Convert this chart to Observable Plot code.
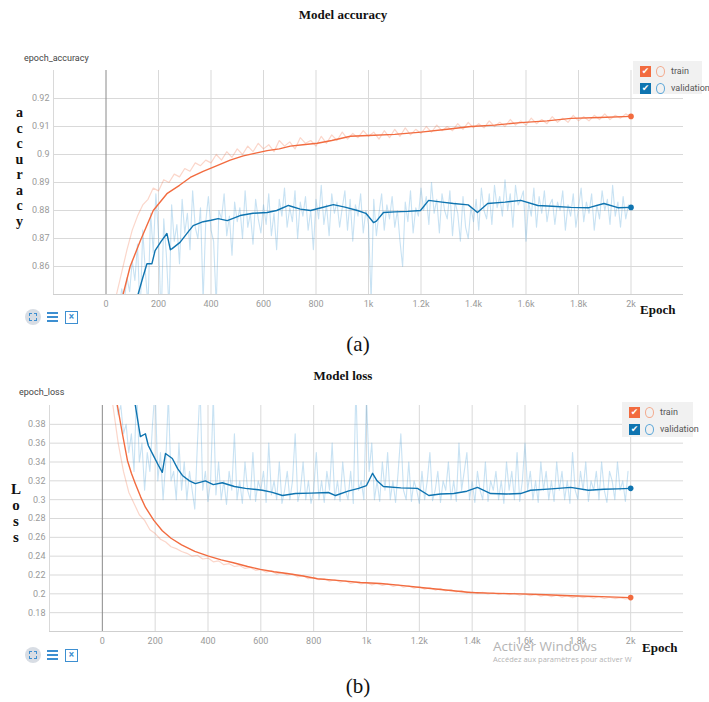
<!DOCTYPE html>
<html><head><meta charset="utf-8">
<script src="https://cdn.jsdelivr.net/npm/d3@7"></script>
<script src="https://cdn.jsdelivr.net/npm/@observablehq/plot@0.6"></script>
<style>
body{margin:0;background:#fff}
#wrap{position:relative;width:709px;height:702px;overflow:hidden;background:#fff;font-family:Roboto,"DejaVu Sans",sans-serif}
.abs{position:absolute;white-space:nowrap}
.title{font-family:"Liberation Serif",serif;font-weight:bold;font-size:13px;color:#111;transform:translateX(-50%)}
.small{font-size:9px;color:#444}
.vlab{font-family:"Liberation Serif",serif;font-weight:bold;color:#111;writing-mode:vertical-lr;text-orientation:upright}
.epoch{font-family:"Liberation Serif",serif;font-weight:bold;font-size:13px;color:#111}
.cap{font-family:"Liberation Serif",serif;font-size:21px;color:#111;transform:translateX(-50%)}
.legend{position:absolute;background:#f1f1f1;font-size:9px;color:#555}
.lrow{position:absolute;left:6px;display:flex;align-items:center;height:12px}
.cb{width:11px;height:11px;color:#fff;font-size:9px;line-height:11px;text-align:center;font-weight:bold}
.circ{width:7px;height:9px;border-radius:50%;margin-left:5px;margin-right:6px}
.plot{position:absolute;left:0}
.ico1{position:absolute;width:16px;height:16px;border-radius:50%;background:#d8dde4}
.ico1 i{position:absolute;left:4px;top:4px;width:6px;height:6px;border:1.2px dashed #3d8fd1}
.ico2{position:absolute;width:11px;height:10px;border-top:2px solid #3d8fd1;border-bottom:2px solid #3d8fd1;box-sizing:border-box}
.ico2 i{position:absolute;left:0;top:2px;width:11px;height:2px;background:#3d8fd1}
.ico3{position:absolute;width:11px;height:11px;border:1.5px solid #3d8fd1;font-size:10px;line-height:10px;text-align:center;color:#3d8fd1;font-weight:bold}
</style></head>
<body><div id="wrap"></div>
<script>
// ---------- data ----------
const xTicks = [0,200,400,600,800,1000,1200,1400,1600,1800,2000];
const xTickLabels = ["0","200","400","600","800","1k","1.2k","1.4k","1.6k","1.8k","2k"];
const accTicks = [0.86,0.87,0.88,0.89,0.9,0.91,0.92];
const accTickLabels = ["0.86","0.87","0.88","0.89","0.9","0.91","0.92"];
const lossTicks = [0.18,0.2,0.22,0.24,0.26,0.28,0.3,0.32,0.34,0.36,0.38];
const lossTickLabels = ["0.18","0.2","0.22","0.24","0.26","0.28","0.3","0.32","0.34","0.36","0.38"];
const seriesNames = ["train","validation"];

// raw training accuracy, one value every 20 epochs (0..2000)
const trainAccRawStep = 20;
const trainAccRaw = [
0.800,0.830,0.850,0.858,0.866,0.873,0.878,0.882,0.884,0.888,
0.887,0.891,0.890,0.893,0.892,0.895,0.894,0.897,0.896,0.898,
0.897,0.900,0.898,0.901,0.899,0.902,0.900,0.903,0.901,0.904,
0.902,0.9035,0.901,0.905,0.903,0.9045,0.902,0.906,0.904,0.905,
0.903,0.9065,0.904,0.907,0.905,0.908,0.9055,0.9075,0.906,0.9085,
0.9065,0.908,0.9055,0.9085,0.906,0.909,0.9065,0.9095,0.907,0.909,
0.9075,0.910,0.908,0.9105,0.9085,0.910,0.9085,0.911,0.909,0.9115,
0.9095,0.911,0.9095,0.912,0.910,0.9115,0.910,0.9125,0.9105,0.912,
0.9105,0.913,0.911,0.9125,0.911,0.9135,0.9115,0.913,0.9115,0.914,
0.912,0.9135,0.912,0.914,0.9125,0.9145,0.9125,0.914,0.913,0.9145,
0.9135];
// smoothed training accuracy [epoch, value]
const trainAccSmooth = [[0,0.80],[40,0.835],[65,0.850],[92,0.860],[130,0.869],[180,0.880],[232,0.886],[280,0.889],[321,0.8918],[370,0.894],[423,0.896],[473,0.898],[523,0.8995],[570,0.9005],[614,0.9014],[660,0.902],[702,0.903],[750,0.9035],[805,0.904],[860,0.905],[931,0.9065],[1000,0.9068],[1100,0.9072],[1200,0.908],[1300,0.909],[1390,0.910],[1480,0.9105],[1580,0.9114],[1680,0.912],[1771,0.9129],[1880,0.9132],[2000,0.9136]];
// raw validation accuracy, one value every 10 epochs (0..1990)
const valAccRawStep = 10;
const valAccRaw = [
0.80,0.81,0.82,0.83,0.84,0.845,0.852,0.848,0.856,0.851,
0.862,0.855,0.868,0.842,0.873,0.858,0.846,0.879,0.865,0.886,
0.871,0.840,0.877,0.864,0.845,0.882,0.869,0.875,0.861,0.884,
0.872,0.879,0.866,0.887,0.874,0.870,0.881,0.848,0.876,0.885,
0.873,0.869,0.846,0.880,0.877,0.886,0.871,0.878,0.864,0.883,
0.876,0.881,0.870,0.887,0.874,0.879,0.868,0.884,0.877,0.872,
0.882,0.875,0.886,0.871,0.879,0.866,0.884,0.878,0.888,0.874,
0.881,0.876,0.887,0.870,0.883,0.878,0.885,0.873,0.880,0.866,
0.884,0.877,0.889,0.875,0.882,0.871,0.886,0.879,0.883,0.874,
0.881,0.887,0.873,0.884,0.869,0.882,0.878,0.886,0.872,0.880,
0.875,0.848,0.884,0.871,0.879,0.886,0.873,0.882,0.877,0.885,
0.874,0.880,0.869,0.860,0.883,0.876,0.887,0.872,0.881,0.878,
0.888,0.880,0.885,0.875,0.890,0.879,0.884,0.872,0.886,0.880,
0.877,0.887,0.871,0.883,0.879,0.869,0.885,0.874,0.870,0.881,
0.876,0.884,0.873,0.888,0.880,0.877,0.886,0.875,0.889,0.881,
0.885,0.878,0.891,0.880,0.886,0.874,0.889,0.882,0.884,0.887,
0.869,0.883,0.878,0.888,0.874,0.885,0.879,0.887,0.876,0.882,
0.884,0.875,0.883,0.880,0.887,0.873,0.882,0.878,0.886,0.874,
0.881,0.888,0.876,0.883,0.879,0.886,0.873,0.882,0.877,0.887,
0.880,0.884,0.875,0.889,0.878,0.883,0.874,0.885,0.877,0.882];
// smoothed validation accuracy [epoch, value]
const valAccSmooth = [[100,0.843],[122,0.850],[140,0.856],[156,0.861],[175,0.861],[187,0.8657],[210,0.869],[232,0.8718],[245,0.866],[252,0.8664],[282,0.8686],[310,0.872],[332,0.8746],[370,0.876],[400,0.8765],[427,0.8771],[462,0.8764],[511,0.8782],[560,0.879],[614,0.8793],[650,0.880],[695,0.8818],[740,0.8805],[779,0.880],[820,0.881],[866,0.8821],[910,0.8812],[958,0.880],[990,0.879],[1019,0.8757],[1030,0.8762],[1057,0.8793],[1100,0.8795],[1150,0.8797],[1198,0.880],[1229,0.8836],[1280,0.883],[1324,0.8825],[1380,0.882],[1415,0.8793],[1454,0.8825],[1520,0.883],[1580,0.8836],[1645,0.8818],[1700,0.8815],[1771,0.8811],[1840,0.881],[1897,0.8825],[1950,0.881],[2000,0.8811]];

// raw training loss, one value every 20 epochs (0..2000)
const trainLossRawStep = 20;
const trainLossRaw = [
0.60,0.48,0.40,0.36,0.33,0.308,0.296,0.284,0.278,0.268,
0.264,0.258,0.255,0.250,0.248,0.245,0.243,0.240,0.241,0.237,
0.238,0.234,0.235,0.231,0.232,0.229,0.230,0.227,0.228,0.225,
0.226,0.223,0.2245,0.221,0.2225,0.220,0.221,0.218,0.2195,0.216,
0.2175,0.215,0.216,0.2135,0.215,0.2125,0.214,0.211,0.2125,0.2105,
0.212,0.2095,0.211,0.209,0.2105,0.208,0.2095,0.207,0.2085,0.206,
0.2075,0.205,0.2065,0.204,0.2055,0.203,0.2045,0.202,0.2035,0.201,
0.2025,0.2005,0.2015,0.200,0.201,0.1995,0.2005,0.199,0.2005,0.1985,
0.200,0.198,0.1995,0.1975,0.199,0.197,0.1985,0.1965,0.198,0.196,
0.1975,0.196,0.197,0.1955,0.197,0.195,0.1965,0.195,0.196,0.1945,
0.1955];
const trainLossSmooth = [[30,0.45],[57,0.40],[76,0.370],[95,0.3416],[110,0.328],[125,0.317],[145,0.303],[163,0.292],[195,0.278],[227,0.267],[260,0.259],[300,0.252],[350,0.245],[402,0.240],[450,0.236],[496,0.233],[550,0.229],[598,0.226],[650,0.2235],[700,0.2216],[760,0.219],[814,0.216],[900,0.214],[977,0.212],[1053,0.211],[1130,0.209],[1205,0.2067],[1300,0.204],[1394,0.2014],[1490,0.2005],[1583,0.200],[1680,0.199],[1773,0.198],[1890,0.197],[2000,0.196]];
// raw validation loss, one value every 10 epochs (0..1990)
const valLossRawStep = 10;
const valLossRaw = [
0.60,0.55,0.50,0.46,0.43,0.41,0.39,0.40,0.37,0.38,
0.35,0.37,0.33,0.42,0.34,0.36,0.31,0.35,0.33,0.38,
0.42,0.32,0.35,0.30,0.34,0.41,0.32,0.33,0.30,0.36,
0.31,0.34,0.300,0.33,0.31,0.29,0.36,0.42,0.31,0.33,
0.298,0.32,0.41,0.305,0.34,0.30,0.32,0.295,0.33,0.31,
0.37,0.30,0.32,0.296,0.34,0.31,0.30,0.35,0.298,0.32,
0.31,0.33,0.297,0.36,0.305,0.32,0.30,0.34,0.296,0.31,
0.33,0.30,0.32,0.37,0.298,0.31,0.34,0.30,0.32,0.296,
0.31,0.35,0.30,0.32,0.297,0.33,0.31,0.36,0.30,0.32,
0.298,0.34,0.31,0.30,0.33,0.296,0.42,0.31,0.32,0.30,
0.41,0.33,0.36,0.30,0.32,0.298,0.34,0.31,0.35,0.30,
0.32,0.297,0.33,0.37,0.31,0.30,0.34,0.298,0.32,0.31,
0.296,0.33,0.30,0.32,0.35,0.299,0.31,0.33,0.297,0.32,
0.31,0.34,0.30,0.32,0.298,0.36,0.31,0.33,0.35,0.30,
0.32,0.297,0.33,0.31,0.30,0.34,0.298,0.32,0.31,0.33,
0.30,0.32,0.296,0.34,0.31,0.33,0.30,0.35,0.298,0.32,
0.36,0.31,0.33,0.30,0.32,0.297,0.34,0.31,0.33,0.30,
0.32,0.298,0.34,0.31,0.33,0.30,0.32,0.296,0.35,0.31,
0.30,0.33,0.31,0.34,0.298,0.32,0.31,0.33,0.30,0.34,
0.31,0.297,0.33,0.32,0.30,0.34,0.31,0.32,0.298,0.33];
const valLossSmooth = [[100,0.42],[125,0.40],[144,0.367],[163,0.370],[174,0.3575],[193,0.347],[215,0.335],[227,0.329],[239,0.349],[265,0.3437],[285,0.333],[303,0.3257],[330,0.320],[352,0.317],[390,0.320],[420,0.316],[454,0.318],[500,0.314],[542,0.312],[606,0.310],[640,0.308],[682,0.3044],[731,0.3065],[790,0.307],[856,0.3076],[883,0.3044],[930,0.309],[970,0.312],[1000,0.315],[1023,0.328],[1040,0.320],[1064,0.314],[1130,0.3125],[1193,0.312],[1236,0.3044],[1280,0.306],[1330,0.3065],[1380,0.309],[1420,0.313],[1470,0.3065],[1530,0.306],[1583,0.3065],[1621,0.310],[1700,0.3115],[1773,0.313],[1840,0.310],[1898,0.311],[1950,0.3115],[2000,0.312]];

// ---------- helpers ----------
const ORANGE = "#f26b3f", BLUE = "#0f74b0";
const toPts = (vals, step) => vals.map((v, i) => ({x: i * step, y: v}));
const fromPairs = arr => arr.map(([x, y]) => ({x, y}));
const wrap = document.getElementById("wrap");
function el(tag, cls, style, text){ const e=document.createElement(tag); if(cls) e.className=cls; if(style) e.style.cssText=style; if(text!=null) e.textContent=text; wrap.appendChild(e); return e; }

function makeChart({yDomain, yTicks, yLabels, trainRaw, trainSmooth, valRaw, valSmooth, marginLeft, height, top}) {
  const chart = Plot.plot({
    width: 709, height, marginLeft, marginRight: 26, marginTop: 10, marginBottom: 20,
    style: {background: "transparent", color: "#9a9a9a", fontSize: "9px", fontFamily: "Roboto, sans-serif", overflow: "visible"},
    x: {domain: [-200, 2200], ticks: xTicks, tickFormat: d => xTickLabels[xTicks.indexOf(d)], tickSize: 0, tickPadding: 6, label: null},
    y: {domain: yDomain, ticks: yTicks, tickFormat: d => yLabels[yTicks.indexOf(d)], tickSize: 0, tickPadding: 4, label: null},
    marks: [
      Plot.ruleY(yTicks, {stroke: "#d9d9d9"}),
      Plot.ruleY([yDomain[0]], {stroke: "#cfcfcf"}),
      Plot.ruleX(xTicks.filter(d => d !== 0), {stroke: "#d9d9d9"}),
      Plot.ruleX([-200], {stroke: "#d9d9d9"}),
      Plot.ruleX([0], {stroke: "#8a8a8a", strokeWidth: 1}),
      Plot.line(trainRaw, {x: "x", y: "y", stroke: ORANGE, strokeOpacity: 0.28, strokeWidth: 1.2, clip: true}),
      Plot.line(valRaw, {x: "x", y: "y", stroke: "#4a9fd6", strokeOpacity: 0.3, strokeWidth: 1.1, clip: true}),
      Plot.line(trainSmooth, {x: "x", y: "y", stroke: ORANGE, strokeWidth: 1.4, clip: true}),
      Plot.line(valSmooth, {x: "x", y: "y", stroke: BLUE, strokeWidth: 1.4, clip: true}),
      Plot.dot([trainSmooth[trainSmooth.length-1]], {x: "x", y: "y", r: 2.8, fill: ORANGE}),
      Plot.dot([valSmooth[valSmooth.length-1]], {x: "x", y: "y", r: 2.8, fill: BLUE})
    ]
  });
  chart.classList.add("plot");
  chart.style.top = top + "px";
  wrap.appendChild(chart);
}

// ---------- chart (a): accuracy ----------
el("div", "abs title", "left:343px;top:7px", "Model accuracy");
el("div", "abs small", "left:24px;top:53px", "epoch_accuracy");
makeChart({yDomain: [0.85, 0.93], yTicks: accTicks, yLabels: accTickLabels,
  trainRaw: toPts(trainAccRaw, trainAccRawStep), trainSmooth: fromPairs(trainAccSmooth),
  valRaw: toPts(valAccRaw, valAccRawStep), valSmooth: fromPairs(valAccSmooth),
  marginLeft: 53, height: 254, top: 60});
el("div", "abs vlab", "left:12px;top:105px;font-size:14px;letter-spacing:0.5px;line-height:14px", "accuracy");
el("div", "abs epoch", "left:640px;top:302px", "Epoch");
el("div", "abs cap", "left:358px;top:332px", "(a)");

// ---------- chart (b): loss ----------
el("div", "abs title", "left:343px;top:368px", "Model loss");
el("div", "abs small", "left:19px;top:387px", "epoch_loss");
makeChart({yDomain: [0.16, 0.40], yTicks: lossTicks, yLabels: lossTickLabels,
  trainRaw: toPts(trainLossRaw, trainLossRawStep), trainSmooth: fromPairs(trainLossSmooth),
  valRaw: toPts(valLossRaw, valLossRawStep), valSmooth: fromPairs(valLossSmooth),
  marginLeft: 49, height: 256, top: 395});
el("div", "abs vlab", "left:8px;top:481px;font-size:15px;line-height:15px", "Loss");
el("div", "abs epoch", "left:642px;top:640px", "Epoch");
el("div", "abs cap", "left:358px;top:674px", "(b)");
el("div", "abs", "left:493px;top:637px;font-family:'Open Sans',sans-serif;font-size:13.5px;color:#b4b4b4", "Activer Windows");
el("div", "abs", "left:493px;top:654px;font-family:'Open Sans',sans-serif;font-size:7.5px;color:#b4b4b4", "Accédez aux paramètres pour activer W");

// ---------- legends ----------
function legend(left, top, w, h, cbLeft) {
  const lg = el("div", "legend", `left:${left}px;top:${top}px;width:${w}px;height:${h}px`);
  [[ORANGE, "#f3a98c", seriesNames[0], 4], [BLUE, "#5aa6d8", seriesNames[1], 21]].forEach(([c, cc, name, y]) => {
    const r = document.createElement("div"); r.className = "lrow"; r.style.top = y + "px"; r.style.left = cbLeft + "px";
    const cb = document.createElement("span"); cb.className = "cb"; cb.style.background = c; cb.textContent = "✔";
    const ci = document.createElement("span"); ci.className = "circ"; ci.style.border = "1.3px solid " + cc;
    const t = document.createElement("span"); t.textContent = name;
    r.append(cb, ci, t); lg.appendChild(r);
  });
}
legend(633, 61, 69, 33, 7);
legend(622, 402, 71, 35, 7);

// ---------- toolbar icons ----------
function icons(top) {
  const a = el("div", "ico1", `left:25px;top:${top-8}px`); a.appendChild(document.createElement("i"));
  const b = el("div", "ico2", `left:47px;top:${top-5}px`); b.appendChild(document.createElement("i"));
  el("div", "ico3", `left:65px;top:${top-6}px`, "×");
}
icons(317);
icons(655);
</script></body></html>
